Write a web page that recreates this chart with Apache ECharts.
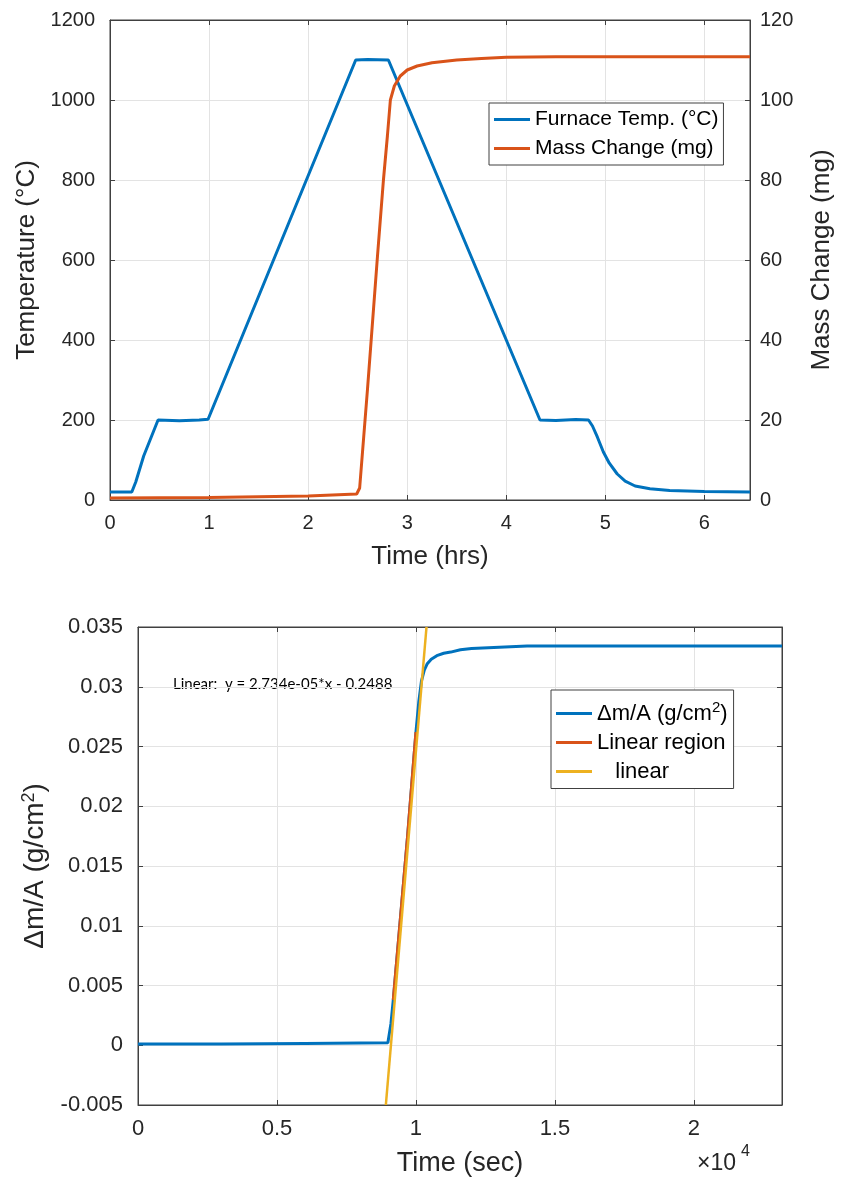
<!DOCTYPE html>
<html>
<head>
<meta charset="utf-8">
<script src="https://cdn.jsdelivr.net/npm/echarts@6/dist/echarts.min.js"></script>
<style>html,body{margin:0;padding:0;background:#fff}#c{width:843px;height:1185px}</style>
</head>
<body>
<div id="c"></div>
<script>
// ---- Top chart data (time in hours) ----
var tempTime = [0, 0.22, 0.26, 0.34, 0.485, 0.7, 0.9, 0.99, 1.0, 2.48, 2.6, 2.81, 4.34, 4.5, 4.7, 4.83, 4.87, 4.92, 4.98, 5.04, 5.12, 5.2, 5.3, 5.45, 5.65, 6.0, 6.46];
var tempVals = [20, 20, 45, 110, 200, 198, 200, 202, 204, 1100, 1101, 1100, 200, 199, 201, 200, 185, 157, 120, 92, 65, 47, 35, 28, 24, 21, 20];
var massTime = [0, 1.0, 2.0, 2.49, 2.52, 2.6, 2.7, 2.76, 2.8, 2.83, 2.87, 2.93, 3.0, 3.1, 3.25, 3.5, 3.75, 4.0, 4.5, 5.0, 6.46];
var massVals = [0.5, 0.6, 1.0, 1.5, 3, 28, 61, 80, 91, 100, 103.5, 106, 107.5, 108.5, 109.3, 110, 110.4, 110.7, 110.8, 110.8, 110.8];
// ---- Bottom chart data (time in seconds) ----
var dmTime = [0, 3000, 6000, 8990, 9100, 9185, 9400, 9700, 10000, 10100, 10200, 10300, 10400, 10550, 10750, 11000, 11250, 11600, 12000, 13000, 14000, 15000, 17000, 20000, 23170];
var dmVals = [0.0001, 0.0001, 0.00015, 0.0002, 0.0018, 0.0038, 0.0095, 0.0175, 0.0262, 0.0287, 0.0305, 0.0314, 0.0319, 0.0323, 0.0326, 0.0328, 0.0329, 0.0331, 0.0332, 0.0333, 0.0334, 0.0334, 0.0334, 0.0334, 0.0334];
var linRegTime = [9185, 9400, 9700, 10000];
var linRegVals = [0.0038, 0.0095, 0.0175, 0.0262];
var fitTime = [8917, 10380];
var fitVals = [-0.005, 0.035];

function zip(a, b) { return a.map(function (v, i) { return [v, b[i]]; }); }

var FONT = 'Liberation Sans';
var TXT = '#262626';
var AX = '#404040';
var GRIDC = '#e3e3e3';
var BLUE = '#0072BD', ORANGE = '#D95319', YELLOW = '#EDB120';

function lbl(size, margin, fmt, extra) {
  var o = { color: TXT, fontSize: size, fontFamily: FONT, margin: margin, formatter: fmt };
  if (extra) for (var k in extra) o[k] = extra[k];
  return o;
}
function plain(v) { return String(v); }
var tick = { inside: false, length: -5, lineStyle: { color: AX } };
var axLine = { show: true, onZero: false, lineStyle: { color: AX } };

var chart = echarts.init(document.getElementById('c'), null, { renderer: 'canvas' });
var option = {
  animation: false,
  backgroundColor: '#fff',
  grid: [
    { left: 110, top: 20, width: 640, height: 480, show: true, borderColor: AX, borderWidth: 1, backgroundColor: 'transparent' },
    { left: 138, top: 627, width: 644, height: 478, show: true, borderColor: AX, borderWidth: 1, backgroundColor: 'transparent' }
  ],
  xAxis: [
    { gridIndex: 0, type: 'value', min: 0, max: 6.46, interval: 1, position: 'bottom',
      name: 'Time (hrs)', nameLocation: 'middle', nameGap: 44, nameTextStyle: { color: TXT, fontSize: 26, fontFamily: FONT },
      axisLine: axLine, axisTick: tick,
      axisLabel: lbl(20, 13, plain, { showMaxLabel: false }),
      splitLine: { show: true, lineStyle: { color: GRIDC } } },
    { gridIndex: 0, type: 'value', min: 0, max: 6.46, interval: 1, position: 'top',
      axisLine: axLine, axisTick: tick, axisLabel: { show: false }, splitLine: { show: false } },
    { gridIndex: 1, type: 'value', min: 0, max: 23170, interval: 5000, position: 'bottom',
      name: 'Time (sec)', nameLocation: 'middle', nameGap: 45, nameTextStyle: { color: TXT, fontSize: 27, fontFamily: FONT },
      axisLine: axLine, axisTick: tick,
      axisLabel: lbl(22, 13, function (v) { return String(parseFloat((v / 10000).toFixed(2))); }, { showMaxLabel: false }),
      splitLine: { show: true, lineStyle: { color: GRIDC } } },
    { gridIndex: 1, type: 'value', min: 0, max: 23170, interval: 5000, position: 'top',
      axisLine: axLine, axisTick: tick, axisLabel: { show: false }, splitLine: { show: false } }
  ],
  yAxis: [
    { gridIndex: 0, type: 'value', min: 0, max: 1200, interval: 200, position: 'left',
      name: 'Temperature (°C)', nameLocation: 'middle', nameGap: 66, nameTextStyle: { color: TXT, fontSize: 26, fontFamily: FONT },
      axisLine: axLine, axisTick: tick,
      axisLabel: lbl(20, 15, plain),
      splitLine: { show: true, lineStyle: { color: GRIDC } } },
    { gridIndex: 0, type: 'value', min: 0, max: 120, interval: 20, position: 'right',
      name: 'Mass Change (mg)', nameLocation: 'middle', nameGap: 59, nameTextStyle: { color: TXT, fontSize: 26, fontFamily: FONT },
      axisLine: axLine, axisTick: tick,
      axisLabel: lbl(20, 10, plain),
      splitLine: { show: false } },
    { gridIndex: 1, type: 'value', min: -0.005, max: 0.035, interval: 0.005, position: 'left',
      name: 'Δm/A (g/cm{sup|2})', nameLocation: 'middle', nameGap: 88,
      nameTextStyle: { color: TXT, fontSize: 28, fontFamily: FONT, rich: { sup: { fontSize: 18, verticalAlign: 'top', padding: [0, 0, 12, 0], color: TXT, fontFamily: FONT } } },
      axisLine: axLine, axisTick: tick,
      axisLabel: lbl(22, 15, function (v) { return String(parseFloat(v.toFixed(3))); }),
      splitLine: { show: true, lineStyle: { color: GRIDC } } },
    { gridIndex: 1, type: 'value', min: -0.005, max: 0.035, interval: 0.005, position: 'right',
      axisLine: axLine, axisTick: tick, axisLabel: { show: false }, splitLine: { show: false } }
  ],
  legend: [
    { data: ['Furnace Temp. (°C)', 'Mass Change (mg)'], orient: 'vertical', left: 489, top: 103,
      backgroundColor: '#fff', borderColor: AX, borderWidth: 1, padding: [6, 5, 6, 5], itemGap: 8,
      icon: 'rect', itemWidth: 36, itemHeight: 3,
      textStyle: { color: '#000', fontSize: 21, fontFamily: FONT } },
    { data: ['Δm/A (g/cm²)', 'Linear region', '   linear'], orient: 'vertical', left: 551, top: 690,
      backgroundColor: '#fff', borderColor: AX, borderWidth: 1, padding: [10, 6, 6, 5], itemGap: 7,
      icon: 'rect', itemWidth: 36, itemHeight: 3,
      formatter: function (n) { return n === 'Δm/A (g/cm²)' ? 'Δm/A (g/cm{sup|2})' : n; },
      textStyle: { color: '#000', fontSize: 22, fontFamily: FONT, rich: { sup: { fontSize: 15, verticalAlign: 'top', padding: [0, 0, 12, 0], color: '#000', fontFamily: FONT } } } }
  ],
  graphic: [
    { type: 'text', left: 173, top: 677, style: { text: 'Linear:  y = 2.734e-05*x - 0.2488', fontSize: 15, fontFamily: 'Lato', fill: '#000' } },
    { type: 'text', left: 697, top: 1152, style: { text: '×10', fontSize: 23, fontFamily: FONT, fill: TXT } },
    { type: 'text', left: 741, top: 1144, style: { text: '4', fontSize: 16, fontFamily: FONT, fill: TXT } }
  ],
  series: [
    { name: 'Furnace Temp. (°C)', type: 'line', xAxisIndex: 0, yAxisIndex: 0, data: zip(tempTime, tempVals),
      symbol: 'none', lineStyle: { color: BLUE, width: 3 }, itemStyle: { color: BLUE } },
    { name: 'Mass Change (mg)', type: 'line', xAxisIndex: 0, yAxisIndex: 1, data: zip(massTime, massVals),
      symbol: 'none', lineStyle: { color: ORANGE, width: 3 }, itemStyle: { color: ORANGE } },
    { name: 'Δm/A (g/cm²)', type: 'line', xAxisIndex: 2, yAxisIndex: 2, data: zip(dmTime, dmVals),
      symbol: 'none', lineStyle: { color: BLUE, width: 3 }, itemStyle: { color: BLUE } },
    { name: 'Linear region', type: 'line', xAxisIndex: 2, yAxisIndex: 2, data: zip(linRegTime, linRegVals),
      symbol: 'none', lineStyle: { color: ORANGE, width: 3 }, itemStyle: { color: ORANGE } },
    { name: '   linear', type: 'line', xAxisIndex: 2, yAxisIndex: 2, data: zip(fitTime, fitVals),
      symbol: 'none', lineStyle: { color: YELLOW, width: 2.5 }, itemStyle: { color: YELLOW } }
  ]
};
chart.setOption(option);
</script>
</body>
</html>
